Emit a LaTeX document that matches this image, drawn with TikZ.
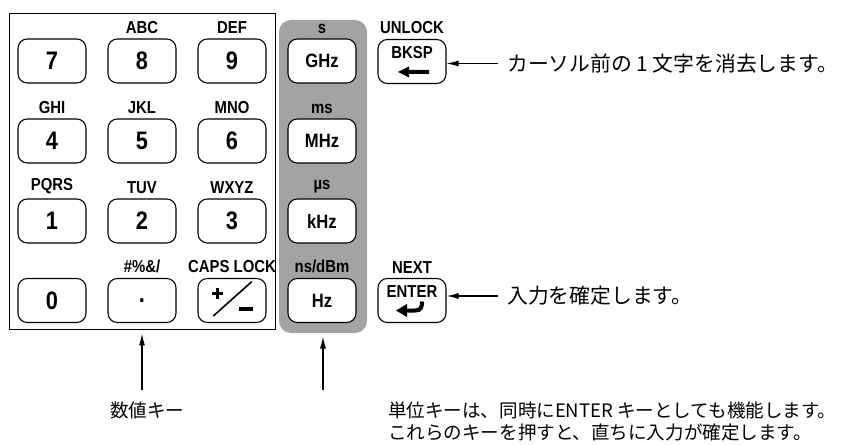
\documentclass[tikz,border=0pt]{standalone}
\usepackage{fontspec}
\usetikzlibrary{arrows.meta,positioning}
\newfontfamily\keyfont[FakeStretch=0.86]{Liberation Sans}
\newfontfamily\jpfont{Noto Sans CJK JP}
\definecolor{unitgray}{RGB}{163,163,163}

\begin{document}
\begin{tikzpicture}[x=0.75pt,y=-0.75pt,>={Latex[length=9pt,width=4.5pt]},
  padkey/.style={draw,line width=0.8pt,rounded corners=7pt,fill=white,minimum width=51pt,minimum height=33pt,inner sep=0pt,font=\keyfont\bfseries\fontsize{19}{19}\selectfont},
  unitkey/.style={padkey,font=\keyfont\bfseries\fontsize{14.5}{14.5}\selectfont},
  keytop/.style={inner sep=0.5pt,font=\keyfont\bfseries\fontsize{13}{13}\selectfont},
  keyin/.style={inner sep=0pt,font=\keyfont\bfseries\fontsize{13}{13}\selectfont},
  remark/.style={inner sep=0pt,font=\jpfont\fontsize{13.9}{16.5}\selectfont},
  bigremark/.style={remark,font=\jpfont\fontsize{15.6}{18}\selectfont}]
\useasboundingbox (0,0) rectangle (842,445);
% frames
\node[draw,line width=0.7pt,minimum width=199.5pt,minimum height=237pt] (pad) at (142,171) {};
\node[fill=unitgray,rounded corners=9pt,minimum width=66pt,minimum height=234.75pt] (units) at (323,176.5) {};
% numeric keys
\node[padkey] (k7) at (52,61) {7};
\node[padkey] (k8) at (142,61) {8};
\node[padkey] (k9) at (232,61) {9};
\node[padkey] (k4) at (52,141) {4};
\node[padkey] (k5) at (142,141) {5};
\node[padkey] (k6) at (232,141) {6};
\node[padkey] (k1) at (52,221) {1};
\node[padkey] (k2) at (142,221) {2};
\node[padkey] (k3) at (232,221) {3};
\node[padkey] (k0) at (52,300.5) {0};
\node[padkey] (kdot) at (142,300.5) {.};
\node[padkey] (ksign) at (232,300.5) {};
\node[keytop,above=3pt of k8] {ABC};
\node[keytop,above=3pt of k9] {DEF};
\node[keytop,above=3pt of k4] {GHI};
\node[keytop,above=3pt of k5] {JKL};
\node[keytop,above=3pt of k6] {MNO};
\node[keytop,above=3pt of k1] {PQRS};
\node[keytop,above=3pt of k2] {TUV};
\node[keytop,above=3pt of k3] {WXYZ};
\node[keytop,above=3pt of kdot] {\#\%\&/};
\node[keytop,above=3pt of ksign] {CAPS LOCK};
\begin{scope}[shift={(ksign.center)}]
\draw[line width=2.4pt] (-20,-7) -- (-9,-7) (-14.5,-12.5) -- (-14.5,-1.5);
\draw[line width=1.2pt] (-18.7,15.5) -- (19.7,-18.8);
\fill (7.3,6.2) rectangle (21.3,10.4);
\end{scope}
% unit keys
\node[unitkey] (ghz) at (322,61) {GHz};
\node[unitkey] (mhz) at (322,141) {MHz};
\node[unitkey] (khz) at (322,221) {kHz};
\node[unitkey] (hz) at (322,300.5) {Hz};
\node[keytop,above=3pt of ghz] {s};
\node[keytop,above=3pt of mhz] {ms};
\node[keytop,above=3pt of khz] {µs};
\node[keytop,above=3pt of hz] {ns/dBm};
% edit keys
\node[padkey] (bksp) at (412,61.5) {};
\node[padkey] (enter) at (412,300.5) {};
\node[keytop,above=3pt of bksp] {UNLOCK};
\node[keytop,above=3pt of enter] {NEXT};
\begin{scope}[shift={(bksp.center)}]
\node[keyin] at (0,-9) {BKSP};
\fill (-14,10.5) -- (-3,5) -- (-3,8.5) -- (17,8.5) -- (17,12.5) -- (-3,12.5) -- (-3,16) -- cycle;
\end{scope}
\begin{scope}[shift={(enter.center)}]
\node[keyin] at (0,-9) {ENTER};
\draw[line width=3pt] (-6,10) -- (3,10) .. controls (9,10) and (10,7) .. (10,1);
\fill (-16,10) -- (-5,3.5) -- (-5,16.5) -- cycle;
\end{scope}
% notes
\node[bigremark,anchor=west] (bkspnote) at (507,63.5) {カーソル前の 1 文字を消去します。};
\node[bigremark,anchor=west] (enternote) at (507,296) {入力を確定します。};
\node[remark,anchor=west] (padnote) at (110,410) {数値キー};
\node[remark,anchor=west,align=left] (unitnote) at (388,421) {単位キーは、同時にENTER キーとしても機能します。\\これらのキーを押すと、直ちに入力が確定します。};
\coordinate (padfoot) at (142,390);
\coordinate (unitfoot) at (323,390);
\draw[->,line width=0.8pt,shorten <=7pt] (bkspnote.west) -- (bkspnote.west -| bksp.east);
\draw[->,line width=0.8pt,shorten <=7pt] (enternote.west) -- (enternote.west -| enter.east);
\draw[->,line width=0.8pt,shorten >=3pt] (padfoot) -- (pad.south);
\draw[->,line width=0.8pt,shorten >=2.5pt] (unitfoot) -- (units.south);
\end{tikzpicture}
\end{document}
